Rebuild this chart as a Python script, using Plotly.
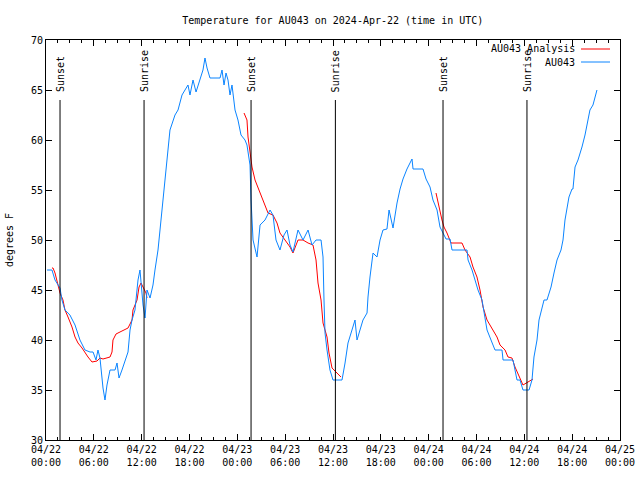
import pandas as pd
import plotly.graph_objects as go

BASE = pd.Timestamp("2024-04-22 00:00")

# AU043 observations: hours since 2024-04-22 00:00 UTC, temperature (F)
obs_hours = [0.13, 0.75, 1.13, 1.76, 2.0, 2.38, 3.0, 3.64, 4.26, 4.89, 5.52, 5.9, 6.27, 6.52, 6.77,
             7.15, 7.4, 7.65, 8.03, 8.66, 8.91, 9.16, 9.53, 9.91, 10.29, 10.54, 10.79, 11.16, 11.54,
             11.79, 12.17, 12.42, 12.67, 13.05, 13.42, 13.67, 14.05, 14.3, 14.68, 15.05, 15.55, 16.18,
             16.56, 17.06, 17.44, 17.81, 18.06, 18.44, 18.82, 19.07, 19.32, 19.69, 19.94, 20.2, 20.57,
             21.83, 22.08, 22.33, 22.58, 22.83, 23.08, 23.33, 23.71, 24.08, 24.46, 24.96, 25.21, 25.59,
             25.72, 25.97, 26.47, 26.85, 27.47, 28.1, 28.47, 28.85, 29.35, 29.85, 30.23, 30.61, 30.98,
             31.61, 32.24, 32.87, 33.37, 33.87, 34.5, 34.75, 34.87, 35.0, 35.25, 35.62, 36.0, 37.13,
             37.51, 37.88, 38.38, 38.76, 39.01, 39.39, 39.76, 40.27, 40.39, 40.64, 41.02, 41.52, 41.9,
             42.27, 42.77, 43.03, 43.53, 44.03, 44.41, 44.78, 45.28, 45.91, 46.04, 47.29, 47.67, 48.17,
             48.54, 49.05, 49.42, 49.8, 50.18, 50.68, 50.93, 52.81, 52.94, 53.44, 53.81, 54.19, 54.69,
             54.94, 55.32, 55.82, 56.32, 57.2, 57.33, 58.58, 58.83, 59.08, 59.46, 59.83, 60.59, 60.96,
             61.21, 61.59, 61.84, 62.22, 62.47, 62.84, 63.35, 63.72, 64.1, 64.6, 64.85, 65.1, 65.35,
             65.6, 65.98, 66.1, 66.36, 66.73, 67.23, 67.61, 68.23, 68.61, 69.11]
obs_temp = [47.0, 47.0, 46.0, 45.2, 44.0, 43.0, 42.5, 41.5, 40.0, 39.0, 38.8, 38.8, 38.0, 39.0, 38.2,
            35.2, 34.0, 35.5, 37.0, 37.0, 37.7, 36.2, 37.0, 38.0, 38.8, 41.0, 42.0, 43.0, 46.0,
            47.0, 43.5, 42.2, 45.0, 44.2, 45.5, 47.0, 49.0, 51.0, 54.0, 57.5, 61.0, 62.5,
            63.0, 64.5, 65.0, 65.5, 64.5, 66.0, 64.8, 65.5, 66.2, 67.0, 68.2, 67.2, 66.2,
            66.2, 67.0, 65.5, 66.7, 66.0, 64.5, 65.5, 63.0, 62.0, 60.5, 60.0, 59.5, 57.5,
            54.0, 50.0, 48.3, 51.5, 52.0, 53.0, 52.5, 50.0, 49.0, 50.5, 51.0, 49.5, 48.8,
            51.0, 50.0, 51.0, 49.5, 50.0, 50.0, 48.3, 44.0, 40.7, 39.0, 37.0, 36.0, 36.0,
            37.7, 39.7, 41.0, 42.0, 40.0, 41.0, 42.0, 42.7, 44.3, 46.3, 48.7, 48.3, 50.0,
            51.0, 51.1, 53.0, 51.2, 53.7, 55.1, 56.1, 57.1, 58.1, 57.1, 57.1, 56.1, 55.3,
            54.0, 53.0, 51.3, 50.7, 50.1, 50.1, 49.0, 49.0, 48.0, 47.0, 46.0, 45.0, 44.0,
            42.7, 41.0, 40.0, 39.0, 39.0, 38.0, 38.0, 37.0, 36.0, 36.0, 35.0, 35.0, 36.0,
            38.3, 40.0, 42.0, 43.3, 44.0, 44.0, 45.3, 46.7, 48.0, 49.0, 50.0, 52.0, 53.3,
            54.3, 55.1, 55.1, 57.3, 58.0, 59.3, 60.5, 63.0, 63.5, 65.0]

# AU043 Analysis (three segments, None = gap)
ana_hours = [0.75, 0.88, 1.13, 1.51, 1.76, 2.13, 2.38, 2.76, 3.26, 3.64, 4.01, 4.52, 4.89, 5.27, 5.77,
             6.4, 6.77, 7.15, 8.03, 8.28, 8.4, 8.78, 9.53, 10.29, 10.79, 10.91, 11.42, 11.67, 11.92,
             12.17, 12.54, 12.67, None,
             24.84, 25.21, 25.34, 25.59, 25.84, 26.22, 26.84, 27.47, 27.85, 28.47, 28.98, 29.35, 29.98,
             30.61, 30.98, 31.61, 32.24, 32.87, 33.49, 33.87, 34.12, 34.5, 34.75, 35.25, 35.5, 35.88,
             36.5, 37.0, None,
             48.92, 49.17, 49.67, 49.92, 50.3, 50.8, 52.18, 52.56, 53.19, 53.56, 54.06, 54.44, 54.82,
             55.32, 55.95, 56.57, 56.95, 57.58, 57.95, 58.45, 58.83, 59.33, 59.83, 60.46, 61.09]
ana_temp = [47.2, 47.2, 46.7, 45.3, 44.7, 44.0, 43.0, 42.3, 41.3, 40.3, 39.7, 39.2, 38.7, 38.3, 37.8,
            37.9, 38.2, 38.1, 38.3, 38.8, 40.0, 40.6, 40.9, 41.2, 42.0, 43.0, 44.0, 45.3, 45.7,
            45.3, 44.7, 44.2, None,
            62.7, 62.0, 60.3, 59.0, 57.3, 56.0, 54.7, 53.3, 52.7, 52.5, 51.7, 50.7, 50.0,
            49.3, 48.7, 50.0, 50.0, 49.7, 49.5, 48.0, 45.7, 44.0, 41.7, 40.3, 38.7, 37.2,
            36.7, 36.3, None,
            54.7, 53.7, 52.0, 51.3, 50.7, 49.7, 49.7, 49.0, 48.3, 47.3, 46.3, 45.0, 43.3,
            42.0, 41.2, 40.3, 39.5, 39.0, 38.3, 38.2, 37.3, 36.3, 35.5, 35.8, 36.1]

# Sun events (hours since start)
sun_hours = [1.76, 12.3, 25.72, 36.3, 49.8, 60.33]
sun_labels = ["Sunset", "Sunrise", "Sunset", "Sunrise", "Sunset", "Sunrise"]

FONT = "DejaVu Sans Mono"
BLUE = "#0a84ff"
RED = "#ff0000"

L, R, T, B = 46, 20, 40, 40
PW = 640 - L - R
PH = 480 - T - B


def to_time(hours):
    return [None if h is None else BASE + pd.Timedelta(hours=h) for h in hours]


fig = go.Figure()
fig.add_trace(go.Scatter(x=to_time(ana_hours), y=ana_temp, mode="lines",
                         line=dict(color=RED, width=1), name="AU043 Analysis",
                         connectgaps=False, showlegend=False))
fig.add_trace(go.Scatter(x=to_time(obs_hours), y=obs_temp, mode="lines",
                         line=dict(color=BLUE, width=1), name="AU043", showlegend=False))

for h, lab in zip(sun_hours, sun_labels):
    t = BASE + pd.Timedelta(hours=h)
    fig.add_shape(type="line", x0=t, x1=t, y0=64, y1=30, xref="x", yref="y",
                  line=dict(color="black", width=1), layer="above")
    fig.add_annotation(x=t, y=64.6, xref="x", yref="y", text=lab, textangle=-90,
                       showarrow=False, xanchor="center", yanchor="bottom",
                       font=dict(family=FONT, size=10, color="black"))

# manual gnuplot-style legend (text then line sample)
legend_items = [("AU043 Analysis", RED, 49), ("AU043", BLUE, 62)]
for name, col, ypx in legend_items:
    yp = 1 - (ypx - T) / PH
    fig.add_annotation(x=(577 - L) / PW, y=yp, xref="paper", yref="paper", text=name,
                       showarrow=False, xanchor="right", yanchor="middle",
                       font=dict(family=FONT, size=10, color="black"))
    fig.add_shape(type="line", xref="paper", yref="paper", x0=(581 - L) / PW,
                  x1=(610 - L) / PW, y0=yp, y1=yp, line=dict(color=col, width=1))

fig.update_layout(
    width=640, height=480,
    margin=dict(l=L, r=R, t=T, b=B, autoexpand=False),
    paper_bgcolor="white", plot_bgcolor="white",
    font=dict(family=FONT, size=10, color="black"),
    title=dict(text="Temperature for AU043 on 2024-Apr-22 (time in UTC)",
               x=0.52, xanchor="center", y=1 - 20 / 480, yanchor="middle",
               font=dict(family=FONT, size=10, color="black")),
)
fig.update_xaxes(
    type="date", automargin=False,
    range=[BASE, BASE + pd.Timedelta(hours=72)],
    dtick=6 * 3600 * 1000, tick0=BASE,
    tickformat="%m/%d<br>%H:%M",
    ticks="inside", ticklen=6, tickcolor="black", tickwidth=1,
    minor=dict(dtick=1.5 * 3600 * 1000, ticks="inside", ticklen=3, tickcolor="black"),
    showline=True, linecolor="black", linewidth=1, mirror="ticks",
    showgrid=False, zeroline=False,
    tickfont=dict(family=FONT, size=10, color="black"),
)
fig.update_yaxes(
    range=[30, 70], dtick=5, automargin=False,
    ticks="inside", ticklen=6, tickcolor="black", tickwidth=1,
    showline=True, linecolor="black", linewidth=1, mirror="ticks",
    showgrid=False, zeroline=False,
    tickfont=dict(family=FONT, size=10, color="black"),
    title=dict(text="degrees F", standoff=15, font=dict(family=FONT, size=10, color="black")),
)

fig.write_html("out.html")
